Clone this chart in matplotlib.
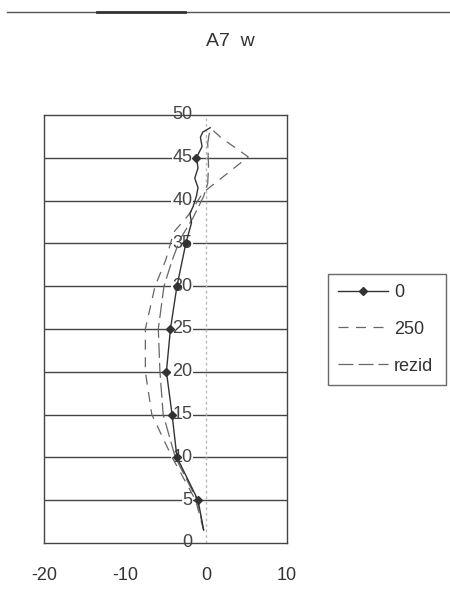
import matplotlib.pyplot as plt
from matplotlib.lines import Line2D

plt.rcParams['font.family'] = ['Liberation Sans', 'DejaVu Sans']

# depth (m) vs. deflection w (mm) for three load states
depth_0 = [1.5, 5, 10, 15, 20, 25, 30, 35, 37.4, 38.5, 39.3, 40.5, 41.5, 42.6, 43.8, 45, 46.3, 47.4, 48.0, 48.5]
w_0 = [-0.3, -1.0, -3.6, -4.2, -4.9, -4.4, -3.6, -2.5, -1.8, -2.0, -1.6, -1.2, -1.0, -1.4, -1.0, -1.2, -0.5, -0.7, -0.4, 0.5]
marked_0 = [1, 2, 3, 4, 5, 6, 7, 15]

depth_250 = [1.5, 5, 10, 15, 20, 25, 30, 33, 36.3, 38.5, 40.9, 43, 45.1, 47.3, 48.5]
w_250 = [-0.3, -1.3, -4.2, -6.7, -7.5, -7.5, -6.3, -5.0, -4.0, -2.0, -0.4, 2.4, 5.2, 1.9, 0.5]

depth_rez = [1.5, 5, 10, 15, 20, 25, 30, 33, 35.5, 38, 40.5, 42, 44, 46.7, 48.5]
w_rez = [-0.3, -1.1, -3.8, -5.3, -5.7, -5.9, -5.2, -4.2, -3.2, -1.6, -0.3, 0.2, 0.3, 0.2, 0.5]

x_ticks = [-20, -10, 0, 10]
y_ticks = [0, 5, 10, 15, 20, 25, 30, 35, 40, 45, 50]

fig = plt.figure(figsize=(4.5, 6.08), dpi=100)
ax = fig.add_axes([0.098, 0.107, 0.54, 0.704])

# scan edge line at the top of the page
fig.add_artist(Line2D([7 / 450, 1.0], [1 - 12 / 608] * 2, color='#555555', lw=1.0))
fig.add_artist(Line2D([97 / 450, 185 / 450], [1 - 12 / 608] * 2, color='#333333', lw=2.0))

for y in y_ticks[1:-1]:
    ax.axhline(y, color='#444444', lw=1.0, zorder=1)
ax.axvline(0, color='#bbbbbb', lw=1.0, ls=(0, (2, 2)), zorder=1)

for y in y_ticks:
    ax.text(-1.7, y, str(y), ha='right', va='center', fontsize=13, color='#444444',
            bbox=dict(facecolor='white', edgecolor='none', pad=0.5), zorder=2)

l0, = ax.plot(w_0, depth_0, color='#333333', lw=1.0, marker='D', markersize=4.5,
              markevery=marked_0, zorder=4, label='0')
l1, = ax.plot(w_250, depth_250, color='#666666', lw=0.9, ls=(0, (8, 6)), zorder=3, label='250')
l2, = ax.plot(w_rez, depth_rez, color='#666666', lw=0.9, ls=(0, (12, 4)), zorder=3, label='rezid')

ax.set_xlim(-20, 10)
ax.set_ylim(0, 50)
ax.set_xticks(x_ticks)
ax.set_xticklabels([str(x) for x in x_ticks], fontsize=13, color='#333333')
ax.set_yticks([])
ax.tick_params(axis='x', length=0, pad=17)
for s in ax.spines.values():
    s.set_color('#444444')
    s.set_linewidth(1.0)

fig.text(230 / 450, 1 - 42 / 608, 'A7  w', ha='center', va='center', fontsize=14, color='#333333')

leg = fig.legend(handles=[l0, l1, l2], loc='upper left',
                 bbox_to_anchor=(328 / 450, 1 - 274 / 608, 118 / 450, 0.0), mode='expand',
                 fontsize=13, frameon=True, fancybox=False, edgecolor='#444444',
                 handlelength=2.8, handletextpad=0.3, labelspacing=1.1, borderpad=0.55,
                 borderaxespad=0)
leg.get_frame().set_linewidth(1.0)
for t in leg.get_texts():
    t.set_color('#333333')

fig.savefig('out.png', dpi=100)
